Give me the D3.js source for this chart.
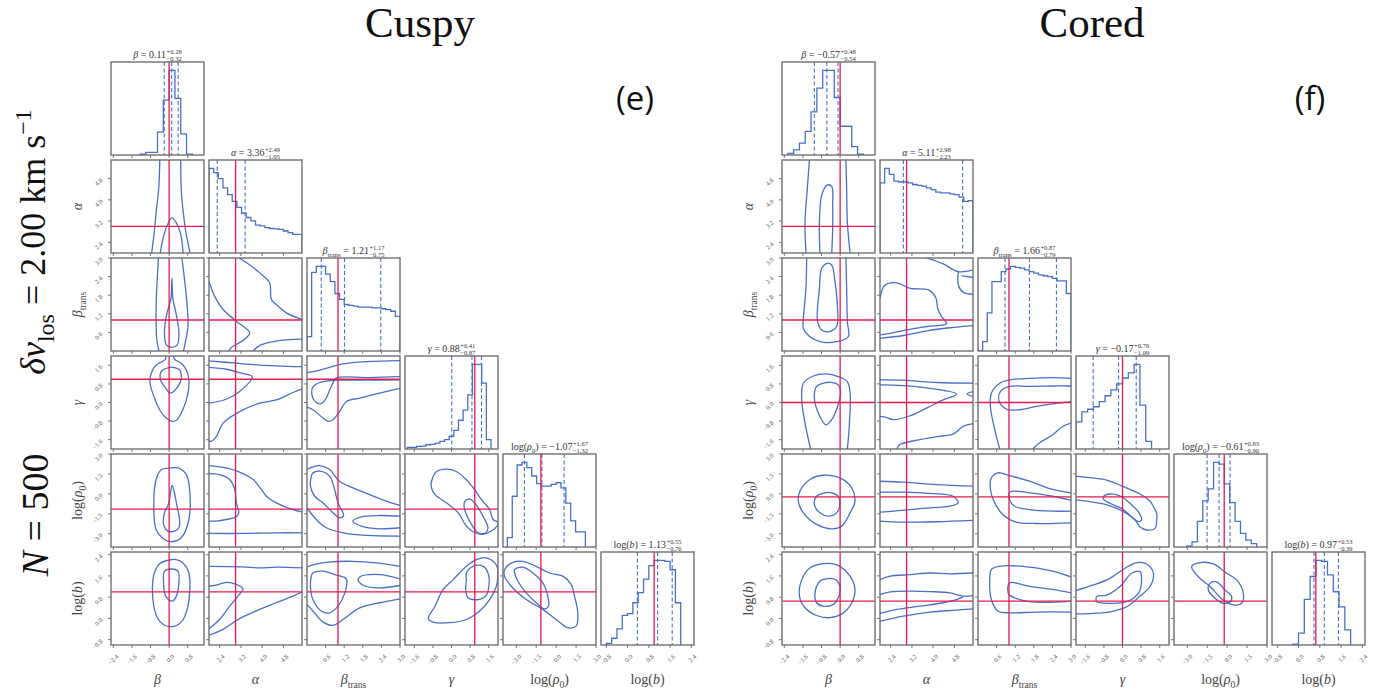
<!DOCTYPE html>
<html><head><meta charset="utf-8">
<script src="https://cdn.jsdelivr.net/npm/d3@7/dist/d3.min.js"></script>
<style>body{margin:0;background:#fff;overflow:hidden}</style>
</head><body>
<svg id="chart" width="1395" height="693"></svg>
<script>
// ---------------- data ----------------
const paramNames = ["beta", "alpha", "btrans", "gamma", "logrho0", "logb"];
const labelParts = [
  [["β","i"]],
  [["α","i"]],
  [["β","i"],["trans","sub"]],
  [["γ","i"]],
  [["log(",""],["ρ","i"],["0","sub"],[")",""]],
  [["log(",""],["b","i"],[")",""]]
];
const axisDomains = [[-2.5,1.5],[2,5.5],[0,3],[-2,2],[-4,3],[-1,2.5]];
const tickValues = [[-2.4,-1.6,-0.8,0,0.8],[2.4,3.2,4.0,4.8],[0.6,1.2,1.8,2.4,3.0],
                    [-1.6,-0.8,0,0.8,1.6],[-3,-1.5,0,1.5,3],[-0.8,0,0.8,1.6,2.4]];

const truthCuspy = [0, 3, 1, 1, -1.15, 1.0];
const truthCored = [0, 3, 1, 0, -0.22, 0.65];

// [median, +err, -err]
const summaryCuspy = [[0.11,0.28,0.32],[3.36,2.49,1.05],[1.21,1.17,0.75],[0.88,0.41,0.87],[-1.07,1.67,1.32],[1.13,0.55,0.76]];
const summaryCored = [[-0.57,0.48,0.54],[5.11,2.98,2.23],[1.66,0.87,0.79],[-0.17,0.76,1.09],[-0.61,0.83,0.90],[0.97,0.53,0.39]];

// histograms: [lo, hi, counts]
const histCuspy = [
  [-1.25, 1.0, [1,3,3,27,65,100,67,25,1]],
  [2.0, 5.5, [100,95,88,77,69,61,54,47,42,38,33,32,30,29,28.5,28,26,24,22,22]],
  [0.0, 3.0, [17,93,100,100,91,82,68,61,55,54,53,52,52,52,51,51,50,49,47,41]],
  [-1.9, 1.7, [2,2,3,3.5,5,5.5,7,9,11,15,22,34,46,64,100,100,78,11]],
  [-3.67, 2.2, [11,60,97,100,94,84,75,72,72,74,76,70,52,31,18,18]],
  [-0.8, 2.0, [2,8,19,35,37,50,62,78,94,100,100,99,89,50]]
];
const histCored = [
  [-2.25, 1.0, [2,6,14,28,51,79,100,100,68,34,34,10,1]],
  [2.0, 5.5, [83,100,93,85,84,84,83,81,80,79,77,75,72,71,71,70,69,66,61,62]],
  [0.0, 3.0, [0,11,45,82,82,94,97,100,99,98,96,94,92,90,89,88,86,83,83,68]],
  [-2.0, 1.25, [32,44,47,50,56,63,70,77,84,90,100,52,9]],
  [-3.05, 2.22, [1,6,30,54,68,99,97,74,52,30,16,8,4]],
  [-0.22, 1.96, [1,14,54,81,100,99,83,63,45,18]]
];

// contour lines: [row, col, closed, [[x,y],...]] in data units
const contoursCuspy = [
  [1,0,0,[[-0.4,5.5],[-0.45,4.4],[-0.55,3.6],[-0.65,2.7],[-0.75,2.0]]],
  [1,0,0,[[0.5,5.5],[0.52,4.4],[0.6,3.6],[0.72,2.8],[0.9,2.0]]],
  [1,0,0,[[-0.38,2.0],[-0.25,2.6],[-0.05,3.1],[0.12,3.32],[0.3,3.15],[0.5,2.7],[0.6,2.0]]],
  [2,0,0,[[-0.46,3.0],[-0.52,2.2],[-0.56,1.45],[-0.53,0.37],[-0.44,0.0]]],
  [2,0,0,[[0.55,3.0],[0.71,1.98],[0.8,1.2],[0.81,0.8],[0.62,0.0]]],
  [2,0,1,[[0.12,2.35],[0.16,1.7],[0.3,1.2],[0.42,0.6],[0.35,0.2],[0.1,0.12],[-0.12,0.2],[-0.2,0.6],[-0.1,1.2],[0.08,1.7]]],
  [2,1,0,[[3.13,3.0],[3.5,2.8],[3.91,2.52],[4.28,2.2],[4.35,1.66],[4.6,1.45],[4.91,1.23],[5.5,1.02]]],
  [2,1,0,[[2.0,2.25],[2.21,1.77],[2.53,1.34],[3.03,0.96],[3.53,0.59],[3.34,0.38],[2.84,0.11],[2.75,0.0]]],
  [2,1,0,[[3.66,0.0],[3.91,0.18],[4.53,0.32],[5.5,0.38]]],
  [3,0,0,[[-0.155,2.0],[-0.155,1.86],[-0.56,1.61],[-0.77,1.26],[-0.82,0.83],[-0.63,0.19],[-0.41,-0.31],[-0.13,-0.67],[0.13,-0.81],[0.34,-0.74],[0.62,-0.24],[0.81,0.4],[0.85,0.97],[0.74,1.4],[0.52,1.69],[0.23,1.86],[0.2,2.0]]],
  [3,0,1,[[0.02,1.51],[-0.34,1.33],[-0.37,0.97],[-0.2,0.69],[0.06,0.4],[0.38,0.69],[0.52,1.04],[0.45,1.4],[0.16,1.51]]],
  [3,1,0,[[2.0,1.79],[3.03,1.69],[3.91,1.61],[5.5,1.54]]],
  [3,1,0,[[2.0,1.51],[2.65,1.43],[3.22,1.26],[3.63,1.11],[3.15,0.47],[2.65,0.14],[2.0,-0.03]]],
  [3,1,0,[[2.0,-1.65],[2.09,-1.67],[2.28,-1.46],[2.53,-0.89],[3.15,-0.39],[3.91,-0.03],[4.53,0.11],[5.16,0.43],[5.5,0.59]]],
  [3,2,0,[[0,1.29],[0.19,1.33],[0.62,1.47],[1.16,1.66],[1.91,1.76],[3.0,1.8]]],
  [3,2,0,[[3.0,1.11],[2.02,1.07],[0.95,1.06],[0.86,0.9],[0.73,0.54],[0.6,0.14],[0.44,-0.06],[0.27,0.03],[0.16,0.33],[0.19,0.66],[0.41,0.86],[0.73,0.94],[1.05,0.96],[2.02,0.96],[3.0,0.97]]],
  [3,2,0,[[0,-0.2],[0.19,-0.31],[0.52,-0.67],[0.68,-0.81],[0.84,-0.74],[1.05,-0.39],[1.27,0.04],[1.7,0.19],[2.34,0.4],[3.0,0.61]]],
  [4,0,1,[[0.09,1.95],[-0.35,1.8],[-0.56,1.08],[-0.66,-0.93],[-0.56,-2.68],[-0.2,-3.43],[0.06,-3.6],[0.52,-3.3],[0.85,-1.93],[0.88,0.33],[0.74,1.45],[0.38,1.95]]],
  [4,0,1,[[0.13,0.63],[0.23,0.08],[0.34,-0.93],[0.45,-1.93],[0.42,-2.55],[0.23,-2.8],[-0.05,-2.8],[-0.24,-2.3],[-0.2,-1.43],[-0.01,-0.68],[0.06,0.08]]],
  [4,1,0,[[2.0,2.13],[2.65,1.95],[3.15,1.63],[3.66,1.08],[3.97,0.33],[4.16,-0.18],[4.53,-0.68],[5.16,-1.18],[5.5,-1.35]]],
  [4,1,0,[[2.0,1.53],[2.4,1.45],[2.78,1.08],[2.97,0.33],[3.03,-0.68],[3.12,-1.43],[3.03,-1.73],[2.65,-1.93],[2.28,-2.05],[2.0,-2.05]]],
  [4,1,0,[[2.0,-2.98],[3.28,-2.98],[4.53,-2.93],[5.5,-2.93]]],
  [4,2,0,[[0,1.83],[0.19,2.03],[0.41,2.13],[0.73,1.83],[1.05,0.95],[1.48,0.45],[2.02,-0.05],[2.56,-0.55],[3.0,-0.88]]],
  [4,2,1,[[0.19,1.58],[0.46,1.7],[0.73,1.33],[0.89,0.33],[1.0,-0.68],[1.18,-1.63],[1.05,-1.8],[0.84,-1.43],[0.52,-0.68],[0.25,-0.18],[0.11,0.58],[0.14,1.33]]],
  [4,2,0,[[0,-1.05],[0.3,-1.93],[0.62,-2.55],[1.16,-2.93],[1.91,-3.13],[3.0,-3.18]]],
  [4,2,0,[[3.0,-1.68],[2.34,-1.63],[1.75,-1.73],[1.48,-2.05],[1.75,-2.43],[2.34,-2.63],[3.0,-2.55]]],
  [4,3,1,[[-0.86,0.93],[-0.64,1.68],[-0.21,1.86],[0.21,1.68],[0.64,1.06],[1.0,0.31],[1.29,-0.44],[1.64,-1.18],[1.79,-1.93],[2.0,-2.13],[2.0,-2.3],[1.71,-2.8],[1.36,-3.05],[1.0,-2.93],[0.64,-2.43],[0.29,-1.43],[-0.21,-0.69],[-0.71,-0.06],[-0.86,0.44]]],
  [4,3,1,[[0.57,-0.56],[0.79,-0.39],[1.0,-0.69],[1.43,-1.93],[1.57,-2.55],[1.47,-2.93],[1.14,-2.93],[0.86,-2.3],[0.64,-1.56],[0.54,-0.93]]],
  [5,0,1,[[0.09,2.21],[-0.41,2.06],[-0.67,1.59],[-0.66,0.46],[-0.41,-0.1],[0.06,-0.31],[0.52,-0.14],[0.81,0.46],[0.85,1.71],[0.59,2.09],[0.31,2.21]]],
  [5,0,1,[[0.06,1.86],[-0.2,1.78],[-0.24,1.34],[-0.15,0.84],[0.13,0.65],[0.31,0.84],[0.42,1.34],[0.38,1.78]]],
  [5,1,0,[[2.0,1.96],[3.28,1.94],[3.91,1.9],[4.53,1.93],[5.5,1.9]]],
  [5,1,0,[[2.0,1.21],[2.28,1.25],[2.65,1.36],[3.03,1.28],[3.28,1.11],[3.09,0.84],[2.78,0.46],[2.4,-0.04],[2.0,-0.39]]],
  [5,1,0,[[2.0,-0.63],[2.53,-0.41],[3.15,-0.01],[3.91,0.34],[4.53,0.59],[5.16,0.84],[5.5,0.99]]],
  [5,2,0,[[0,1.94],[0.25,2.03],[0.62,2.11],[1.48,2.15],[2.24,2.09],[3.0,1.96]]],
  [5,2,1,[[0.19,1.71],[0.52,1.78],[0.89,1.65],[1.27,1.49],[1.22,0.96],[1.0,0.46],[0.73,0.21],[0.46,0.28],[0.19,0.71],[0.11,1.21],[0.14,1.59]]],
  [5,2,0,[[3.0,1.49],[2.34,1.65],[1.7,1.56],[1.65,1.44],[1.83,1.24],[2.34,1.15],[3.0,1.24]]],
  [5,2,0,[[0,0.53],[0.19,0.28],[0.52,-0.14],[0.84,-0.26],[1.16,-0.04],[1.7,0.4],[2.34,0.59],[3.0,0.74]]],
  [5,3,1,[[-1.0,-0.01],[-0.71,0.46],[-0.36,1.09],[0.07,1.46],[0.64,1.96],[1.07,2.21],[1.5,2.28],[1.86,2.09],[2.0,1.84],[2.0,1.71],[1.93,1.21],[1.64,0.71],[1.21,0.28],[0.64,-0.04],[-0.07,-0.16],[-0.79,-0.14]]],
  [5,3,1,[[0.64,1.71],[0.93,1.96],[1.36,1.96],[1.57,1.71],[1.61,1.21],[1.47,0.84],[1.14,0.71],[0.71,0.78],[0.61,1.09],[0.64,1.46]]],
  [5,4,1,[[-3.88,1.84],[-3.25,2.11],[-2.5,2.15],[-1.5,1.96],[-0.5,1.71],[0.5,1.59],[1.13,1.28],[1.38,0.84],[1.63,0.21],[1.5,-0.29],[0.88,-0.35],[0.0,-0.04],[-1.0,0.34],[-2.25,0.71],[-3.38,1.21],[-3.88,1.59]]],
  [5,4,1,[[-3.13,1.84],[-2.5,1.93],[-1.75,1.71],[-1.0,1.34],[-0.63,0.84],[-0.58,0.46],[-0.88,0.36],[-1.5,0.59],[-2.25,0.96],[-2.88,1.4],[-3.13,1.71]]]
];

const contoursCored = [
  [1,0,0,[[-1.32,5.5],[-1.41,4.43],[-1.51,3.18],[-1.47,2.0]]],
  [1,0,0,[[0.25,5.5],[0.28,4.43],[0.31,3.18],[0.43,2.0]]],
  [1,0,0,[[-0.87,2.0],[-0.89,3.18],[-0.79,4.18],[-0.55,4.56],[-0.36,4.5],[-0.32,3.81],[-0.32,2.93],[-0.36,2.0]]],
  [2,0,0,[[-1.44,3.0],[-1.47,2.02],[-1.58,1.05],[-1.58,0.73],[-1.3,0.46],[-0.72,0.28],[-0.15,0.3],[0.35,0.46],[0.31,0.95],[0.28,2.02],[0.25,3.0]]],
  [2,0,1,[[-0.55,2.83],[-0.79,2.67],[-0.89,2.02],[-0.97,0.95],[-0.79,0.68],[-0.51,0.62],[-0.15,0.79],[-0.12,1.48],[-0.22,2.24],[-0.36,2.77]]],
  [2,1,0,[[3.76,3.0],[4.38,2.81],[4.95,2.56],[5.5,2.61]]],
  [2,1,0,[[4.95,2.56],[4.95,2.13],[5.14,1.89],[5.5,1.83]]],
  [2,1,0,[[5.07,2.43],[5.5,2.37]]],
  [2,1,0,[[2.0,1.7],[2.19,2.13],[2.63,2.2],[3.13,2.02],[3.82,1.97],[4.1,1.72],[4.17,1.38],[4.32,1.11],[4.51,0.89],[3.76,0.79],[3.0,0.68],[2.38,0.57],[2.0,0.52]]],
  [2,1,0,[[2.0,0.41],[2.88,0.5],[3.76,0.65],[4.63,0.75],[5.5,0.82]]],
  [3,0,0,[[-1.27,-2.0],[-1.51,-0.89],[-1.65,0.11],[-1.58,0.83],[-1.15,1.14],[-0.58,1.23],[-0.08,1.11],[0.31,0.9],[0.43,0.4],[0.4,-0.89],[0.35,-1.6],[0.31,-2.0]]],
  [3,0,1,[[-0.58,0.86],[-1.01,0.69],[-1.11,0.19],[-0.87,-0.6],[-0.61,-0.96],[-0.36,-0.74],[-0.11,-0.17],[0.02,0.4],[-0.08,0.76],[-0.36,0.87]]],
  [3,1,0,[[2.0,0.97],[2.88,0.96],[4.13,0.86],[5.5,0.83]]],
  [3,1,0,[[2.0,0.76],[2.88,0.73],[3.88,0.61],[4.88,0.36],[4.38,0.11],[3.75,-0.24],[3.13,-0.57],[2.5,-0.74],[2.19,-0.63],[2.0,-0.6]]],
  [3,1,0,[[5.5,0.47],[5.28,0.37],[5.5,0.26]]],
  [3,1,0,[[2.63,-2.0],[2.75,-1.81],[3.5,-1.6],[4.38,-1.43],[4.75,-1.36],[5.13,-1.03],[5.5,-0.91]]],
  [3,2,0,[[0.7,-2.0],[0.54,-1.17],[0.4,-0.17],[0.43,0.4],[0.7,0.83],[1.02,0.97],[1.66,1.04],[2.41,1.07],[3.0,1.04]]],
  [3,2,0,[[3.0,0.71],[2.41,0.71],[1.66,0.69],[1.02,0.69],[0.72,0.47],[0.68,0.04],[0.8,-0.17],[0.96,-0.31],[1.34,-0.31],[1.88,-0.17],[2.41,-0.06],[3.0,0.04]]],
  [3,2,0,[[1.77,-2.0],[1.98,-1.74],[2.41,-1.39],[2.73,-1.03],[3.0,-0.89]]],
  [4,0,1,[[-0.72,1.4],[-1.3,1.08],[-1.73,0.2],[-1.8,-0.55],[-1.58,-1.43],[-1.01,-2.3],[-0.36,-2.63],[0.07,-2.43],[0.43,-1.43],[0.64,-0.55],[0.5,0.45],[0.07,1.13]]],
  [4,0,1,[[-0.65,0.08],[-1.01,-0.18],[-1.11,-0.8],[-0.87,-1.43],[-0.51,-1.68],[-0.15,-1.43],[-0.01,-0.8],[-0.08,-0.18],[-0.36,0.08]]],
  [4,1,0,[[2.0,0.95],[2.88,0.88],[4.13,0.7],[5.5,0.58]]],
  [4,1,0,[[2.0,0.13],[2.88,0.13],[3.88,0.03],[4.75,-0.18],[4.94,-0.68],[4.63,-0.93],[3.88,-1.05],[3.13,-1.18],[2.5,-1.3],[2.0,-1.38]]],
  [4,1,0,[[2.0,-2.05],[2.88,-2.13],[4.13,-2.1],[5.5,-2.0]]],
  [4,2,0,[[3.0,0.08],[2.41,0.33],[1.66,0.95],[1.02,1.38],[0.64,1.58],[0.43,1.2],[0.4,0.33],[0.54,-0.68],[0.8,-1.55],[1.23,-2.13],[1.88,-2.23],[3.0,-2.18]]],
  [4,2,0,[[3.0,-0.48],[2.41,-0.18],[1.66,0.08],[1.04,0.15],[1.02,-0.43],[1.18,-0.93],[1.66,-1.18],[2.41,-1.3],[3.0,-1.3]]],
  [4,3,0,[[-2.0,1.34],[-1.4,1.22],[-0.68,1.04],[0.04,0.54],[0.75,-0.01],[1.18,-0.54],[1.33,-0.96],[1.47,-1.47],[1.47,-1.97],[1.4,-2.6],[1.04,-2.72],[0.75,-2.47],[0.54,-1.97],[0.18,-1.47],[-0.25,-1.09],[-0.82,-0.76],[-1.4,-0.59],[-2.0,-0.46]]],
  [4,3,1,[[-0.82,-0.21],[-0.54,-0.01],[-0.04,-0.21],[0.32,-0.71],[0.68,-1.34],[0.82,-1.97],[0.68,-2.09],[0.39,-1.72],[-0.04,-1.09],[-0.54,-0.71],[-0.82,-0.41]]],
  [5,0,1,[[-0.72,2.06],[-1.3,1.9],[-1.65,1.46],[-1.75,0.84],[-1.51,0.4],[-1.01,0.11],[-0.44,0.03],[0.14,0.21],[0.5,0.59],[0.64,1.09],[0.43,1.59],[-0.01,1.96],[-0.36,2.06]]],
  [5,0,1,[[-0.51,1.5],[-0.87,1.4],[-1.08,0.96],[-1.01,0.59],[-0.72,0.46],[-0.29,0.53],[-0.08,0.78],[-0.01,1.21],[-0.15,1.44],[-0.36,1.5]]],
  [5,1,0,[[2.0,1.46],[2.38,1.59],[3.13,1.65],[3.88,1.71],[4.63,1.68],[5.5,1.71]]],
  [5,1,0,[[2.0,0.9],[2.38,1.0],[3.13,1.03],[3.88,1.01],[4.63,0.96],[5.13,0.84],[5.5,0.86]]],
  [5,1,0,[[2.0,0.19],[2.63,0.34],[3.5,0.46],[4.38,0.59],[4.88,0.71],[5.13,0.81]]],
  [5,1,0,[[2.0,-0.1],[2.88,0.09],[3.88,0.24],[4.88,0.31],[5.5,0.36]]],
  [5,2,0,[[3.0,1.56],[2.41,1.78],[1.45,1.96],[0.7,1.96],[0.43,1.84],[0.38,1.46],[0.43,0.71],[0.64,0.28],[1.02,0.21],[1.88,0.24],[3.0,0.24]]],
  [5,2,0,[[3.0,0.96],[2.41,1.09],[1.66,1.21],[1.02,1.34],[0.96,1.15],[1.0,0.9],[1.34,0.71],[1.88,0.61],[2.41,0.61],[3.0,0.65]]],
  [5,3,0,[[-2.0,1.05],[-1.25,1.26],[-0.54,1.51],[0.11,1.89],[0.61,2.1],[1.04,2.05],[1.33,1.7],[1.18,1.2],[0.75,0.84],[0.18,0.44],[-0.54,0.25],[-1.25,0.19],[-2.0,0.17]]],
  [5,3,1,[[-1.11,0.82],[-0.68,0.88],[-0.11,1.2],[0.39,1.7],[0.75,1.76],[0.82,1.45],[0.68,0.94],[0.18,0.63],[-0.54,0.57],[-1.11,0.63]]],
  [5,4,1,[[-2.67,1.95],[-2.04,2.1],[-1.04,2.05],[-0.04,1.7],[0.72,1.45],[1.22,0.94],[1.09,0.57],[0.47,0.51],[-0.29,0.69],[-1.29,1.2],[-2.17,1.57]]],
  [5,4,1,[[-1.29,1.32],[-0.79,1.38],[-0.16,1.07],[0.34,0.82],[0.22,0.63],[-0.29,0.57],[-0.91,0.76],[-1.42,1.07]]]
];

// ---------------- layout & style ----------------
const S = 93, P = 98, Y0 = 62;
const BLUE = "#4a6fc9", RED = "#e8194c", FRAME = "#666";
const SERIF = "'Liberation Serif', 'DejaVu Serif', serif";
const svg = d3.select("#chart");
const fmt = v => d3.format(".1f")(v).replace("-", "\u2212");
const fmt2 = v => d3.format(".2f")(v).replace("-", "\u2212");

function addParts(textSel, parts, size) {
  let shift = 0;
  parts.forEach(([t, kind]) => {
    const ts = textSel.append("tspan").text(t);
    if (kind === "i") ts.attr("font-style", "italic");
    if (kind === "sub") {
      ts.attr("font-size", size * 0.68).attr("dy", size * 0.28 - shift);
      shift = size * 0.28;
    } else if (shift !== 0) {
      ts.attr("dy", -shift); shift = 0;
    }
  });
}

const corners = [
  {x0: 111, hists: histCuspy, contours: contoursCuspy, truth: truthCuspy, summary: summaryCuspy, title: "Cuspy", titleX: 420, tag: "(e)", tagX: 635},
  {x0: 782, hists: histCored, contours: contoursCored, truth: truthCored, summary: summaryCored, title: "Cored", titleX: 1092, tag: "(f)", tagX: 1310}
];

let clipCount = 0;
corners.forEach(cfg => {
  const n = paramNames.length;
  for (let r = 0; r < n; r++) {
    for (let c = 0; c <= r; c++) {
      const px = cfg.x0 + c * P, py = Y0 + r * P;
      const g = svg.append("g").attr("transform", `translate(${px},${py})`);
      const cid = "clip" + (clipCount++);
      g.append("clipPath").attr("id", cid).append("rect").attr("width", S).attr("height", S);
      g.append("rect").attr("width", S).attr("height", S).attr("fill", "#fff");
      const xs = d3.scaleLinear().domain(axisDomains[c]).range([0, S]);
      const inner = g.append("g").attr("clip-path", `url(#${cid})`);
      if (r === c) {
        const [lo, hi, counts] = cfg.hists[c];
        const w = (hi - lo) / counts.length;
        const yh = d3.scaleLinear().domain([0, 1.1 * d3.max(counts)]).range([S, 0]);
        const pts = [[lo, 0]];
        counts.forEach((v, i) => { pts.push([lo + i * w, v]); pts.push([lo + (i + 1) * w, v]); });
        pts.push([hi, 0]);
        inner.append("path").attr("d", d3.line().x(p => xs(p[0])).y(p => yh(p[1]))(pts))
          .attr("fill", "none").attr("stroke", BLUE).attr("stroke-width", 1.3);
        const [m, pl, mi] = cfg.summary[c];
        [m - mi, m, m + pl].forEach(q => {
          inner.append("line").attr("x1", xs(q)).attr("x2", xs(q)).attr("y1", 0).attr("y2", S)
            .attr("stroke", BLUE).attr("stroke-width", 1.1).attr("stroke-dasharray", "4,2.5");
        });
        inner.append("line").attr("x1", xs(cfg.truth[c])).attr("x2", xs(cfg.truth[c])).attr("y1", 0).attr("y2", S)
          .attr("stroke", RED).attr("stroke-width", 1.3);
        // title
        const tg = svg.append("g");
        const t1 = tg.append("text").attr("font-family", SERIF).attr("font-size", 10).attr("fill", "#333");
        addParts(t1, labelParts[c].concat([[" = " + fmt2(m), ""]]), 10);
        const w1 = t1.node().getComputedTextLength();
        const sup = tg.append("text").attr("x", w1 + 0.5).attr("y", -3.8).attr("font-family", SERIF).attr("font-size", 6.5).attr("fill", "#333").text("+" + pl.toFixed(2));
        const sub = tg.append("text").attr("x", w1 + 0.5).attr("y", 2.8).attr("font-family", SERIF).attr("font-size", 6.5).attr("fill", "#333").text("\u2212" + mi.toFixed(2));
        const tw = w1 + 0.5 + Math.max(sup.node().getComputedTextLength(), sub.node().getComputedTextLength());
        tg.attr("transform", `translate(${px + S / 2 - tw / 2},${py - 4})`);
      } else {
        const ys = d3.scaleLinear().domain(axisDomains[r]).range([S, 0]);
        cfg.contours.filter(d => d[0] === r && d[1] === c).forEach(d => {
          const line = d3.line().x(p => xs(p[0])).y(p => ys(p[1]))
            .curve(d[2] ? d3.curveCatmullRomClosed.alpha(0.5) : d3.curveCatmullRom.alpha(0.5));
          inner.append("path").attr("d", line(d[3])).attr("fill", "none")
            .attr("stroke", BLUE).attr("stroke-width", 1.3).attr("stroke-linejoin", "round");
        });
        inner.append("line").attr("x1", xs(cfg.truth[c])).attr("x2", xs(cfg.truth[c])).attr("y1", 0).attr("y2", S)
          .attr("stroke", RED).attr("stroke-width", 1.3);
        inner.append("line").attr("x1", 0).attr("x2", S).attr("y1", ys(cfg.truth[r])).attr("y2", ys(cfg.truth[r]))
          .attr("stroke", RED).attr("stroke-width", 1.3);
        // left ticks
        tickValues[r].forEach(v => {
          g.append("line").attr("x1", 0).attr("x2", -3).attr("y1", ys(v)).attr("y2", ys(v)).attr("stroke", FRAME).attr("stroke-width", 0.9);
          if (c === 0) {
            const ex = -8, ey = ys(v) + 2;
            g.append("text").attr("x", ex).attr("y", ey).attr("text-anchor", "end")
              .attr("transform", `rotate(-45,${ex},${ey})`).attr("font-family", SERIF).attr("font-size", 6.5).attr("fill", "#555").text(fmt(v));
          }
        });
      }
      g.append("rect").attr("width", S).attr("height", S).attr("fill", "none").attr("stroke", FRAME).attr("stroke-width", 1.3);
      // bottom ticks
      tickValues[c].forEach(v => {
        g.append("line").attr("x1", xs(v)).attr("x2", xs(v)).attr("y1", S).attr("y2", S + 3).attr("stroke", FRAME).attr("stroke-width", 0.9);
        if (r === n - 1) {
          const ex = xs(v) + 5.5, ey = S + 12;
          g.append("text").attr("x", ex).attr("y", ey).attr("text-anchor", "end")
            .attr("transform", `rotate(-45,${ex},${ey})`).attr("font-family", SERIF).attr("font-size", 6.5).attr("fill", "#555").text(fmt(v));
        }
      });
    }
  }
  // axis labels
  for (let i = 0; i < n; i++) {
    const bx = cfg.x0 + i * P + S / 2;
    const t = svg.append("text").attr("x", bx).attr("y", 684).attr("text-anchor", "middle")
      .attr("font-family", SERIF).attr("font-size", 14).attr("fill", "#444");
    addParts(t, labelParts[i], 14);
    if (i > 0) {
      const cy = Y0 + i * P + S / 2, lx = cfg.x0 - 29;
      const ty = svg.append("text").attr("transform", `translate(${lx},${cy}) rotate(-90)`).attr("text-anchor", "middle")
        .attr("font-family", SERIF).attr("font-size", 14).attr("fill", "#444");
      addParts(ty, labelParts[i], 14);
    }
  }
  svg.append("text").attr("x", cfg.titleX).attr("y", 37).attr("text-anchor", "middle")
    .attr("font-family", SERIF).attr("font-size", 43).attr("fill", "#111").text(cfg.title);
  svg.append("text").attr("x", cfg.tagX).attr("y", 110).attr("text-anchor", "middle")
    .attr("font-family", "'Open Sans', 'Noto Sans', sans-serif").attr("font-size", 33).attr("fill", "#111").text(cfg.tag);
});

// left side labels
const dv = svg.append("text").attr("transform", "translate(45,242) rotate(-90)").attr("text-anchor", "middle")
  .attr("font-family", SERIF).attr("font-size", 36).attr("fill", "#111");
dv.append("tspan").attr("font-style", "italic").text("δv");
dv.append("tspan").attr("font-size", 24).attr("dy", 9).text("los");
dv.append("tspan").attr("dy", -9).text(" = 2.00 km s");
dv.append("tspan").attr("font-size", 24).attr("dy", -14).text("\u22121");
const nl = svg.append("text").attr("transform", "translate(48,515) rotate(-90)").attr("text-anchor", "middle")
  .attr("font-family", SERIF).attr("font-size", 38).attr("fill", "#111");
nl.append("tspan").attr("font-style", "italic").text("N");
nl.append("tspan").text(" = 500");
</script>
</body></html>
